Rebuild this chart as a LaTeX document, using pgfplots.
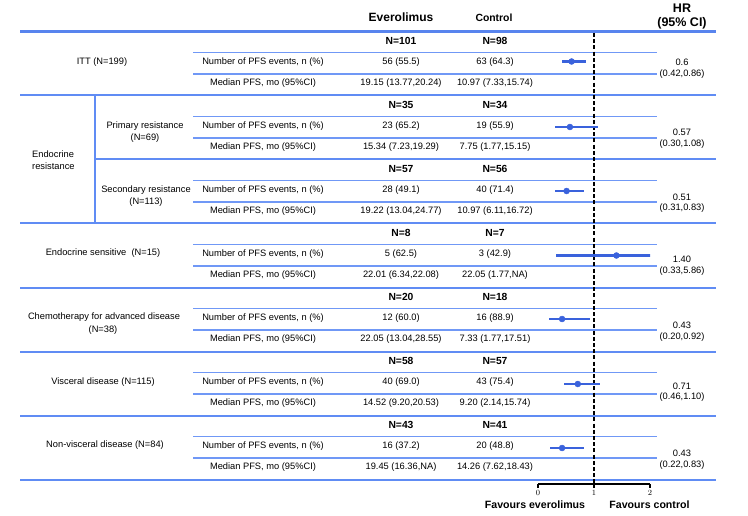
\documentclass[border=0pt]{standalone}
\usepackage{pgfplots}
\pgfplotsset{compat=1.18}
\usepackage{pgfplotstable}
\usepackage{fontspec}
\setmainfont{Liberation Sans}
\definecolor{topl}{RGB}{88,132,238}
\definecolor{sepl}{RGB}{96,140,244}
\definecolor{subl}{RGB}{112,152,246}
\definecolor{fp}{RGB}{58,98,220}
\pgfplotstableread{
hr y ep em
0.60 -61.5 0.26 0.18
0.57 -127 0.51 0.27
0.51 -191 0.32 0.20
1.40 -255.5 4.46 1.07
0.43 -319 0.49 0.23
0.71 -384 0.39 0.25
0.43 -448 0.40 0.21
}\hrdata
\newcommand{\bodyf}{\fontsize{9.3bp}{11bp}\selectfont}
\newcommand{\boldf}{\fontsize{10.3bp}{12bp}\selectfont\bfseries}
% group: T, Nev, Nctl, ev, ctl, mev, mctl
\newcommand{\grp}[7]{%
  \draw[subl,line width=1.4bp] (193,#1+21) -- (657,#1+21);
  \draw[subl,line width=1.4bp] (193,#1+42.5) -- (657,#1+42.5);
  \node[font=\boldf] at (401,#1+9.5) {#2};
  \node[font=\boldf] at (495,#1+9.5) {#3};
  \node[font=\bodyf] at (263,#1+30.5) {Number of PFS events, n (\%)};
  \node[font=\bodyf] at (263,#1+51.5) {Median PFS, mo (95\%CI)};
  \node[font=\bodyf] at (401,#1+30.5) {#4};
  \node[font=\bodyf] at (495,#1+30.5) {#5};
  \node[font=\bodyf] at (401,#1+51.5) {#6};
  \node[font=\bodyf] at (495,#1+51.5) {#7};
}
\newcommand{\hrtxt}[4]{%
  \node[font=\bodyf] at (682,#1) {#3};
  \node[font=\bodyf] at (682,#2) {#4};
}
\begin{document}
\begin{tikzpicture}[x=1bp,y=-1bp]
\useasboundingbox (0,0) rectangle (748,516);
% header
\node[font=\fontsize{12bp}{14bp}\selectfont\bfseries] at (401,17) {Everolimus};
\node[font=\fontsize{10.4bp}{12bp}\selectfont\bfseries] at (494,18) {Control};
\node[font=\fontsize{12.5bp}{14bp}\selectfont\bfseries] at (682,8) {HR};
\node[font=\fontsize{12.5bp}{14bp}\selectfont\bfseries] at (682,23) {(95\% CI)};
% separators
\draw[topl,line width=2.8bp] (20,31.5) -- (716,31.5);
\foreach \yy in {95.5,223.5,287.5,351.5,415.5,479.5}
  \draw[sepl,line width=2bp] (20,\yy) -- (716,\yy);
\draw[sepl,line width=2bp] (95,159.5) -- (716,159.5);
\draw[sepl,line width=2bp] (95,95.5) -- (95,223.5);
% groups
\grp{31.5}{N=101}{N=98}{56 (55.5)}{63 (64.3)}{19.15 (13.77,20.24)}{10.97 (7.33,15.74)}
\grp{95.5}{N=35}{N=34}{23 (65.2)}{19 (55.9)}{15.34 (7.23,19.29)}{7.75 (1.77,15.15)}
\grp{159.5}{N=57}{N=56}{28 (49.1)}{40 (71.4)}{19.22 (13.04,24.77)}{10.97 (6.11,16.72)}
\grp{223.5}{N=8}{N=7}{5 (62.5)}{3 (42.9)}{22.01 (6.34,22.08)}{22.05 (1.77,NA)}
\grp{287.5}{N=20}{N=18}{12 (60.0)}{16 (88.9)}{22.05 (13.04,28.55)}{7.33 (1.77,17.51)}
\grp{351.5}{N=58}{N=57}{40 (69.0)}{43 (75.4)}{14.52 (9.20,20.53)}{9.20 (2.14,15.74)}
\grp{415.5}{N=43}{N=41}{16 (37.2)}{20 (48.8)}{19.45 (16.36,NA)}{14.26 (7.62,18.43)}
% HR text
\hrtxt{62}{74}{0.6}{(0.42,0.86)}
\hrtxt{132}{144}{0.57}{(0.30,1.08)}
\hrtxt{197}{208.5}{0.51}{(0.31,0.83)}
\hrtxt{259.5}{271}{1.40}{(0.33,5.86)}
\hrtxt{325}{337}{0.43}{(0.20,0.92)}
\hrtxt{386}{397.5}{0.71}{(0.46,1.10)}
\hrtxt{453}{465}{0.43}{(0.22,0.83)}
% first column labels
\node[font=\bodyf] at (102,62) {ITT (N=199)};
\node[font=\bodyf] at (145,126) {Primary resistance};
\node[font=\bodyf] at (145,138) {(N=69)};
\node[font=\bodyf] at (146,190) {Secondary resistance};
\node[font=\bodyf] at (146,202) {(N=113)};
\node[font=\bodyf,anchor=west,inner xsep=0pt] at (32,154) {Endocrine};
\node[font=\bodyf,anchor=west,inner xsep=0pt] at (32,166) {resistance};
\node[font=\bodyf] at (103,253) {Endocrine sensitive\ \ (N=15)};
\node[font=\bodyf] at (104,317) {Chemotherapy for advanced disease};
\node[font=\bodyf] at (103,330) {(N=38)};
\node[font=\bodyf] at (103,382) {Visceral disease (N=115)};
\node[font=\bodyf] at (105,445) {Non-visceral disease (N=84)};
% favours
\node[font=\fontsize{10.6bp}{12bp}\selectfont\bfseries] at (535,504.5) {Favours everolimus};
\node[font=\fontsize{10.6bp}{12bp}\selectfont\bfseries] at (649.5,504.5) {Favours control};
% forest axis
\begin{axis}[
  at={(538bp,-33bp)}, anchor=north west,
  scale only axis, width=112bp, height=451bp,
  xmin=0, xmax=2, ymin=-484, ymax=-33,
  axis x line*=bottom, axis y line=none,
  axis line style={-,black,line width=1.1bp},
  xtick={0,1,2}, tick align=outside,
  major tick length=4bp,
  tick style={black,line width=1.1bp},
  xticklabel style={font=\fontsize{7.5bp}{8bp}\selectfont, yshift=1bp},
  enlargelimits=false,
]
\addplot[black, line width=1.8bp, dash pattern=on 4bp off 2.2bp] coordinates {(1,-33) (1,-484)};
\addplot[fp, only marks, mark=*, mark size=3bp,
  error bars/.cd, x dir=both, x explicit, error mark=none,
  error bar style={fp, line width=2.4bp}]
  table[x=hr, y=y, x error plus=ep, x error minus=em] {\hrdata};
\end{axis}
\end{tikzpicture}
\end{document}
